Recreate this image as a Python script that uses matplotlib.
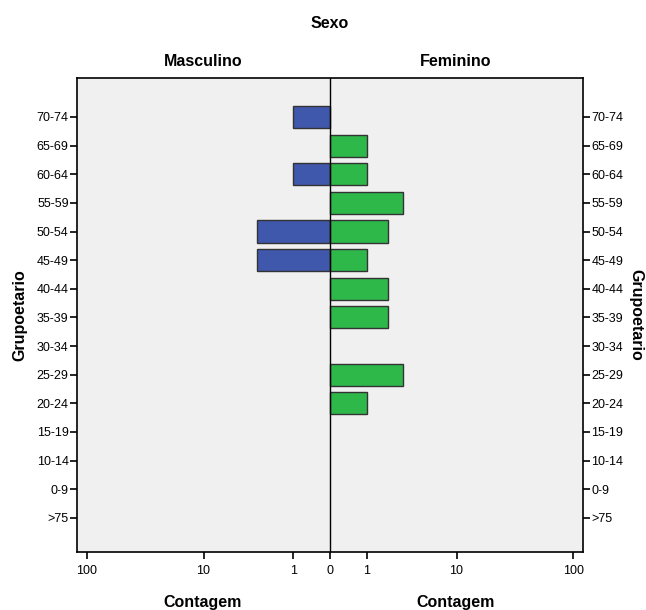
import numpy as np
import matplotlib
matplotlib.use("Agg")
import matplotlib.pyplot as plt
from matplotlib.ticker import FixedLocator, FuncFormatter

plt.rcParams["font.family"] = ["Liberation Sans Narrow", "Liberation Sans", "DejaVu Sans"]

grupos = ["70-74", "65-69", "60-64", "55-59", "50-54", "45-49", "40-44",
          "35-39", "30-34", "25-29", "20-24", "15-19", "10-14", "0-9", ">75"]
masculino = [1, 0, 1, 0, 3, 3, 0, 0, 0, 0, 0, 0, 0, 0, 0]
feminino = [0, 1, 1, 3, 2, 1, 2, 2, 0, 3, 1, 0, 0, 0, 0]
tick_vals = [-100, -10, -1, 0, 1, 10, 100]


def fwd(x):
    x = np.asarray(x, dtype=float)
    return np.sign(x) * np.log10(np.abs(x) + 1)


def inv(y):
    y = np.asarray(y, dtype=float)
    return np.sign(y) * (10 ** np.abs(y) - 1)


fig = plt.figure(figsize=(6.46, 6.10), dpi=100)
ax = fig.add_axes([77 / 646, 58 / 610, 506 / 646, 474 / 610])
ax.set_facecolor("#f0f0f0")
ax.set_xscale("function", functions=(fwd, inv))

ypos = np.arange(len(grupos))
m = np.array(masculino, dtype=float)
f = np.array(feminino, dtype=float)
mk = m > 0
fk = f > 0
ax.barh(ypos[mk], -m[mk], height=0.77, color="#3f58ab", edgecolor="#333333", linewidth=1.0)
ax.barh(ypos[fk], f[fk], height=0.77, color="#2fb84a", edgecolor="#333333", linewidth=1.0)
ax.axvline(0, color="black", linewidth=1.0)

ax.set_xlim(-120, 120)
ax.set_ylim(15.19, -1.36)
ax.xaxis.set_major_locator(FixedLocator(tick_vals))
ax.xaxis.set_minor_locator(FixedLocator([]))
ax.xaxis.set_major_formatter(FuncFormatter(lambda v, p: f"{abs(v):.0f}"))
ax.tick_params(axis="x", direction="out", length=5, width=1.2, labelsize=9, pad=4)

ax.set_yticks(ypos)
ax.set_yticklabels(grupos)
ax.tick_params(axis="y", direction="out", length=5, width=1.2, labelsize=9, pad=1,
               left=True, right=True, labelleft=True, labelright=True)
for s in ax.spines.values():
    s.set_linewidth(1.2)

fig.text(20 / 646, 1 - 315 / 610, "Grupoetario", rotation=90, fontsize=11.5,
         fontweight="bold", ha="center", va="center")
fig.text(636 / 646, 1 - 315 / 610, "Grupoetario", rotation=270, fontsize=11.5,
         fontweight="bold", ha="center", va="center")

fig.text(330 / 646, 1 - 24 / 610, "Sexo", ha="center", va="center", fontsize=11.5, fontweight="bold")
fig.text(203 / 646, 1 - 62 / 610, "Masculino", ha="center", va="center", fontsize=11.5, fontweight="bold")
fig.text(456 / 646, 1 - 62 / 610, "Feminino", ha="center", va="center", fontsize=11.5, fontweight="bold")
fig.text(203 / 646, 1 - 602 / 610, "Contagem", ha="center", va="center", fontsize=11.5, fontweight="bold")
fig.text(456 / 646, 1 - 602 / 610, "Contagem", ha="center", va="center", fontsize=11.5, fontweight="bold")

fig.savefig("out.png", dpi=100, facecolor="white")
